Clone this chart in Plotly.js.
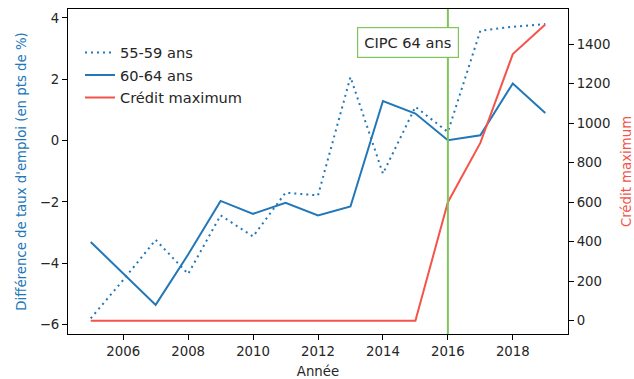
<!DOCTYPE html>
<html>
<head>
<meta charset="utf-8">
<script src="https://cdn.plot.ly/plotly-3.0.1.min.js"></script>
<style>html,body{margin:0;padding:0;background:#fff;}#chart{width:634px;height:379px;}</style>
</head>
<body>
<div id="chart"></div>
<script>
const years = [2005,2006,2007,2008,2009,2010,2011,2012,2013,2014,2015,2016,2017,2018,2019];
const ecart5559 = [-5.80,-4.55,-3.24,-4.35,-2.44,-3.13,-1.70,-1.79,2.07,-1.08,1.10,0.28,3.58,3.71,3.80];
const ecart6064 = [-3.31,-4.35,-5.36,-3.72,-1.97,-2.39,-2.03,-2.44,-2.15,1.29,0.88,0.01,0.17,1.86,0.90];
const creditMax = [0,0,0,0,0,0,0,0,0,0,0,600,900,1350,1500];
const reformYear = 2016;
const reformLabel = "CIPC 64 ans";

const blue = '#2277b8';
const red = '#f4544b';
const green = '#80c45c';
const txt = '#262626';
const fam = 'DejaVu Sans, sans-serif';
const font = {family: fam, size: 13.3, color: txt};
const bigFont = {family: fam, size: 14.6, color: txt};

const traces = [
  {x: years, y: ecart5559, name: '55-59 ans', type: 'scatter', mode: 'lines', legendgroup: 'a',
   line: {color: blue, width: 2, dash: '2px,4px'}},
  {x: years, y: ecart6064, name: '60-64 ans', type: 'scatter', mode: 'lines', legendgroup: 'b',
   line: {color: blue, width: 2}},
  {x: years, y: creditMax, name: 'Crédit maximum', type: 'scatter', mode: 'lines', legendgroup: 'c',
   yaxis: 'y2', line: {color: red, width: 2}}
];

const layout = {
  width: 634, height: 379,
  margin: {l: 68, r: 66, t: 9, b: 45},
  paper_bgcolor: '#fff', plot_bgcolor: '#fff',
  font: font,
  showlegend: true,
  legend: {x: 0.024, y: 0.915, xanchor: 'left', yanchor: 'top', bgcolor: 'rgba(0,0,0,0)',
           font: bigFont, tracegroupgap: 0.5},
  xaxis: {
    range: [2004.3, 2019.7], tickvals: [2006,2008,2010,2012,2014,2016,2018],
    showgrid: false, zeroline: false, showline: true, linecolor: '#000', linewidth: 1, mirror: true,
    ticks: 'outside', ticklen: 5, tickcolor: '#000',
    title: {text: 'Année', font: font, standoff: 9}
  },
  yaxis: {
    range: [-6.31, 4.29], tickvals: [-6,-4,-2,0,2,4], ticktext: ['−6','−4','−2','0','2','4'],
    showgrid: false, zeroline: false, showline: true, linecolor: '#000', linewidth: 1, mirror: true,
    ticks: 'outside', ticklen: 5, tickcolor: '#000',
    title: {text: "Différence de taux d'emploi (en pts de %)", font: {family: fam, size: 13.3, color: blue}, standoff: 10}
  },
  yaxis2: {
    overlaying: 'y', side: 'right', range: [-67, 1578],
    tickvals: [0,200,400,600,800,1000,1200,1400],
    showgrid: false, zeroline: false, showline: false,
    ticks: 'outside', ticklen: 5, tickcolor: '#000',
    title: {text: 'Crédit maximum', font: {family: fam, size: 13.3, color: red}, standoff: 14}
  },
  shapes: [
    {type: 'line', xref: 'x', yref: 'paper', x0: reformYear, x1: reformYear, y0: 0, y1: 1,
     line: {color: green, width: 2}, layer: 'above'}
  ],
  annotations: [
    {x: 2014.77, y: 0.898, xref: 'x', yref: 'paper', xanchor: 'center', yanchor: 'middle',
     text: reformLabel, showarrow: false, font: bigFont,
     bgcolor: '#fff', bordercolor: green, borderwidth: 1.2, borderpad: 6}
  ]
};

Plotly.newPlot('chart', traces, layout, {displayModeBar: false, staticPlot: true});
</script>
</body>
</html>
